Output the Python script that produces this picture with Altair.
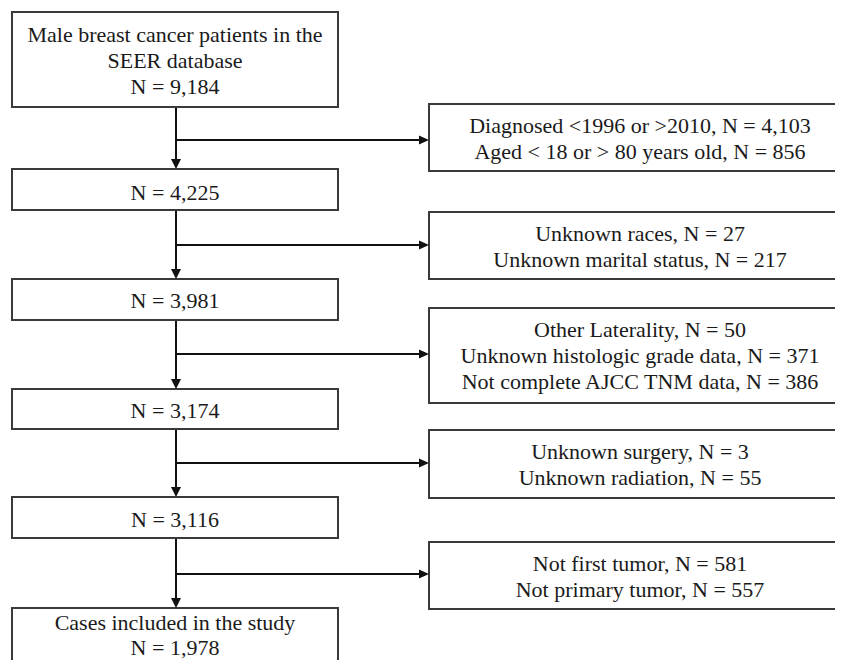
import altair as alt
import pandas as pd

# ---- content ----
main_labels = [
    ["Male breast cancer patients in the", "SEER database", "N = 9,184"],
    ["N = 4,225"],
    ["N = 3,981"],
    ["N = 3,174"],
    ["N = 3,116"],
    ["Cases included in the study", "N = 1,978"],
]
excl_labels = [
    ["Diagnosed <1996 or >2010, N = 4,103", "Aged < 18 or > 80 years old, N = 856"],
    ["Unknown races, N = 27", "Unknown marital status, N = 217"],
    ["Other Laterality, N = 50", "Unknown histologic grade data, N = 371",
     "Not complete AJCC TNM data, N = 386"],
    ["Unknown surgery, N = 3", "Unknown radiation, N = 55"],
    ["Not first tumor, N = 581", "Not primary tumor, N = 557"],
]

# ---- layout (page pixel coordinates) ----
main_top = [12, 169, 279, 389, 497, 608]
main_bot = [107, 210, 320, 429, 538, 690]
main_x0, main_x1 = 12, 338
excl_top = [104, 212, 308, 430, 542]
excl_bot = [171, 279, 403, 498, 609]
excl_x0, excl_x1 = 429, 851
branch_y = [140, 245, 354, 463, 574]
spine_x = 176
line_gap = 26
main_first = [30, 31, 29, 29, 30, 22]
main_gap = [26, 26, 26, 26, 26, 25]

boxes = []
texts = []
for i, lines in enumerate(main_labels):
    boxes.append(dict(x0=main_x0, x1=main_x1, y0=main_top[i], y1=main_bot[i]))
    for j, t in enumerate(lines):
        texts.append(dict(x=(main_x0 + main_x1) / 2,
                          y=main_top[i] + main_first[i] + main_gap[i] * j, t=t))
for i, lines in enumerate(excl_labels):
    boxes.append(dict(x0=excl_x0, x1=excl_x1, y0=excl_top[i], y1=excl_bot[i]))
    for j, t in enumerate(lines):
        texts.append(dict(x=(excl_x0 + excl_x1) / 2, y=excl_top[i] + 29 + line_gap * j, t=t))

segs = []
for i in range(len(main_top) - 1):
    segs.append(dict(x0=spine_x, x1=spine_x, y0=main_bot[i], y1=main_top[i + 1] - 8))
for i, by in enumerate(branch_y):
    segs.append(dict(x0=spine_x, x1=excl_x0 - 8, y0=by, y1=by))

down_heads = [dict(x=spine_x, y=main_top[i + 1] - 5) for i in range(len(main_top) - 1)]
right_heads = [dict(x=excl_x0 - 5, y=by) for by in branch_y]

W, H = 827, 652
xs = alt.Scale(domain=[8, 8 + W])
ys = alt.Scale(domain=[8, 8 + H], reverse=True)
X = lambda f: alt.X(f, type="quantitative", scale=xs, axis=None)
Y = lambda f: alt.Y(f, type="quantitative", scale=ys, axis=None)

seg_layer = alt.Chart(pd.DataFrame(segs)).mark_rule(
    color="#111111", strokeWidth=2, clip=True
).encode(x=X("x0"), x2="x1", y=Y("y0"), y2="y1")

box_layer = alt.Chart(pd.DataFrame(boxes)).mark_rect(
    fill="white", stroke="#3a3a3a", strokeWidth=2, clip=True
).encode(x=X("x0"), x2="x1", y=Y("y0"), y2="y1")

text_layer = alt.Chart(pd.DataFrame(texts)).mark_text(
    font="Liberation Serif", fontSize=22, color="#1a1a1a",
    align="center", baseline="alphabetic"
).encode(x=X("x"), y=Y("y"), text="t:N")

down_layer = alt.Chart(pd.DataFrame(down_heads)).mark_point(
    shape="M-1,-1L1,-1L0,1Z", size=100, filled=True, color="#111111", opacity=1
).encode(x=X("x"), y=Y("y"))

right_layer = alt.Chart(pd.DataFrame(right_heads)).mark_point(
    shape="M-1,-0.9L1,0L-1,0.9Z", size=100, filled=True, color="#111111", opacity=1
).encode(x=X("x"), y=Y("y"))

chart = alt.layer(seg_layer, box_layer, text_layer, down_layer, right_layer).properties(
    width=W, height=H, padding=0, autosize=alt.AutoSizeParams(type="none"),
    background="white"
).configure_view(stroke=None)

chart.save("out.html", embed_options={"renderer": "svg", "actions": False})
